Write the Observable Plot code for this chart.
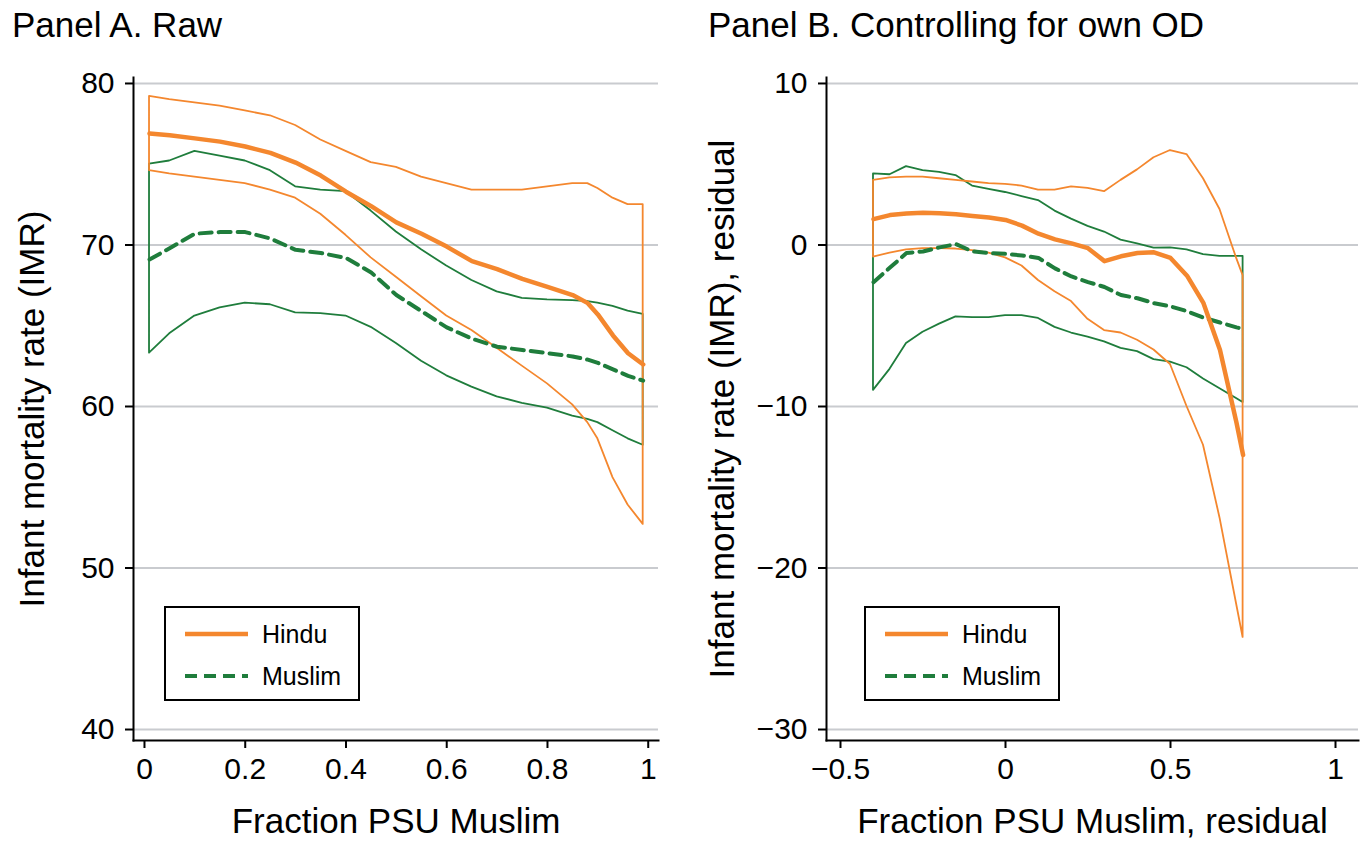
<!DOCTYPE html>
<html>
<head>
<meta charset="utf-8">
<script src="https://cdn.jsdelivr.net/npm/d3@7"></script>
<script src="https://cdn.jsdelivr.net/npm/@observablehq/plot@0.6"></script>
<style>
  body { margin: 0; background: #fff; }
  #wrap { position: relative; width: 1360px; height: 846px; overflow: hidden; background: #fff;
          font-family: "Liberation Sans", Arial, Helvetica, sans-serif; color: #000; }
  .panel { position: absolute; top: 0; }
  .ptitle { position: absolute; font-size: 35px; line-height: 1; white-space: nowrap; }
  .legend { position: absolute; box-sizing: border-box; border: 2px solid #000; background: #fff; }
  .legend svg { position: absolute; left: 0; top: 0; }
</style>
</head>
<body>
<div id="wrap"></div>
<script>
// ---------------- DATA ----------------
const ORANGE = "#f4872e";
const GREEN = "#1f7d3c";

const seriesNames = ["Hindu", "Muslim"];

// Panel A. Raw
const titleA = "Panel A. Raw";
const xLabelA = "Fraction PSU Muslim";
const yLabelA = "Infant mortality rate (IMR)";
const xTicksA = [0, 0.2, 0.4, 0.6, 0.8, 1];
const yTicksA = [40, 50, 60, 70, 80];
const xA = [0.01, 0.05, 0.10, 0.15, 0.20, 0.25, 0.30, 0.35, 0.40, 0.45, 0.50, 0.55, 0.60, 0.65, 0.70, 0.75, 0.80, 0.85, 0.88, 0.90, 0.93, 0.96, 0.99];
const hinduA    = [76.9, 76.8, 76.6, 76.4, 76.1, 75.7, 75.1, 74.3, 73.3, 72.4, 71.4, 70.7, 69.9, 69.0, 68.5, 67.9, 67.4, 66.9, 66.4, 65.7, 64.4, 63.3, 62.6];
const hinduA_hi = [79.2, 79.0, 78.8, 78.6, 78.3, 78.0, 77.4, 76.5, 75.8, 75.1, 74.8, 74.2, 73.8, 73.4, 73.4, 73.4, 73.6, 73.8, 73.8, 73.5, 72.9, 72.5, 72.5];
const hinduA_lo = [74.6, 74.4, 74.2, 74.0, 73.8, 73.4, 72.9, 71.9, 70.6, 69.2, 68.0, 66.8, 65.6, 64.7, 63.6, 62.5, 61.4, 60.1, 59.0, 58.0, 55.6, 53.9, 52.7];
const muslimA    = [69.1, 69.8, 70.7, 70.8, 70.8, 70.4, 69.7, 69.5, 69.2, 68.3, 66.9, 65.9, 64.9, 64.2, 63.7, 63.5, 63.3, 63.1, 62.9, 62.7, 62.3, 61.9, 61.6];
const muslimA_hi = [75.0, 75.2, 75.8, 75.5, 75.2, 74.6, 73.6, 73.4, 73.3, 72.1, 70.8, 69.7, 68.7, 67.8, 67.1, 66.7, 66.6, 66.55, 66.5, 66.4, 66.2, 65.9, 65.7];
const muslimA_lo = [63.3, 64.5, 65.6, 66.1, 66.4, 66.3, 65.8, 65.75, 65.6, 64.9, 63.9, 62.8, 61.9, 61.2, 60.6, 60.2, 59.9, 59.4, 59.2, 59.0, 58.5, 58.0, 57.6];

// Panel B. Controlling for own OD
const titleB = "Panel B. Controlling for own OD";
const xLabelB = "Fraction PSU Muslim, residual";
const yLabelB = "Infant mortality rate (IMR), residual";
const xTicksB = [-0.5, 0, 0.5, 1];
const yTicksB = [-30, -20, -10, 0, 10];
const xB = [-0.40, -0.35, -0.30, -0.25, -0.20, -0.15, -0.10, -0.05, 0, 0.05, 0.10, 0.15, 0.20, 0.25, 0.30, 0.35, 0.40, 0.45, 0.50, 0.55, 0.60, 0.65, 0.70, 0.72];
const hinduB    = [1.6, 1.85, 1.95, 2.0, 1.97, 1.9, 1.8, 1.7, 1.55, 1.2, 0.7, 0.35, 0.1, -0.2, -1.0, -0.7, -0.5, -0.45, -0.8, -1.9, -3.6, -6.5, -11.0, -13.0];
const hinduB_hi = [4.0, 4.15, 4.2, 4.2, 4.1, 4.0, 3.9, 3.8, 3.75, 3.65, 3.4, 3.4, 3.6, 3.5, 3.3, 4.0, 4.65, 5.4, 5.85, 5.6, 4.1, 2.2, -0.8, -1.9];
const hinduB_lo = [-0.75, -0.5, -0.3, -0.22, -0.22, -0.25, -0.35, -0.5, -0.8, -1.3, -2.2, -2.9, -3.5, -4.6, -5.3, -5.45, -5.9, -6.5, -7.4, -10.0, -12.4, -16.9, -22.2, -24.3];
const muslimB    = [-2.3, -1.4, -0.5, -0.4, -0.15, 0.05, -0.4, -0.5, -0.55, -0.65, -0.8, -1.45, -1.95, -2.3, -2.6, -3.1, -3.3, -3.6, -3.8, -4.1, -4.5, -4.8, -5.1, -5.2];
const muslimB_hi = [4.4, 4.35, 4.85, 4.6, 4.5, 4.3, 3.65, 3.45, 3.25, 3.0, 2.75, 2.1, 1.6, 1.15, 0.8, 0.3, 0.07, -0.2, -0.18, -0.3, -0.6, -0.7, -0.7, -0.7];
const muslimB_lo = [-9.0, -7.7, -6.1, -5.4, -4.9, -4.45, -4.5, -4.5, -4.37, -4.37, -4.55, -5.1, -5.45, -5.7, -6.0, -6.4, -6.6, -7.1, -7.25, -7.6, -8.3, -8.9, -9.5, -9.75];

// ---------------- BUILD ----------------
const FONT = '"Liberation Sans", Arial, Helvetica, sans-serif';
const fmt = d3.format("~g");
const rows = (xs, m, lo, hi) => xs.map((x, i) => ({x, y: m[i], lo: lo[i], hi: hi[i]}));

function panel(cfg) {
  const H = rows(cfg.x, cfg.hindu, cfg.hlo, cfg.hhi);
  const M = rows(cfg.x, cfg.muslim, cfg.mlo, cfg.mhi);
  return Plot.plot({
    width: 680, height: 846,
    marginLeft: cfg.marginLeft, marginRight: cfg.marginRight, marginTop: 77, marginBottom: 106,
    style: {fontFamily: FONT, color: "#000", background: "transparent", overflow: "visible"},
    x: {domain: cfg.xDomain},
    y: {domain: cfg.yDomain},
    marks: [
      Plot.gridY(cfg.yTicks, {stroke: "#c9cbcf", strokeOpacity: 1, strokeWidth: 2}),
      Plot.areaY(M, {x: "x", y1: "lo", y2: "hi", fill: "none", stroke: GREEN, strokeWidth: 1.8, strokeLinejoin: "round"}),
      Plot.areaY(H, {x: "x", y1: "lo", y2: "hi", fill: "none", stroke: ORANGE, strokeWidth: 1.8, strokeLinejoin: "round"}),
      Plot.lineY(M, {x: "x", y: "y", stroke: GREEN, strokeWidth: 4, strokeDasharray: "12,7"}),
      Plot.lineY(H, {x: "x", y: "y", stroke: ORANGE, strokeWidth: 4.5, strokeLinejoin: "round", strokeLinecap: "round"}),
      Plot.frame({anchor: "left", stroke: "#000", strokeWidth: 2}),
      Plot.frame({anchor: "bottom", stroke: "#000", strokeWidth: 2}),
      Plot.axisY({ticks: cfg.yTicks, tickFormat: fmt, tickSize: 8, tickPadding: 11, strokeWidth: 2, label: null, fontSize: 30}),
      Plot.axisX({ticks: cfg.xTicks, tickFormat: fmt, tickSize: 8, tickPadding: 9, strokeWidth: 2, label: null, fontSize: 30}),
      Plot.text([cfg.yLabel], {text: d => d, frameAnchor: "left", textAnchor: "middle", rotate: -90, dx: cfg.yLabelDx, fontSize: 35}),
      Plot.text([cfg.xLabel], {text: d => d, frameAnchor: "bottom", textAnchor: "middle", dy: 92, fontSize: 35})
    ]
  });
}

const wrap = document.getElementById("wrap");

function place(el, left) {
  el.classList.add("panel");
  el.style.left = left + "px";
  wrap.appendChild(el);
}

place(panel({
  x: xA, hindu: hinduA, hlo: hinduA_lo, hhi: hinduA_hi, muslim: muslimA, mlo: muslimA_lo, mhi: muslimA_hi,
  marginLeft: 133, marginRight: 22, xDomain: [-0.0218, 1.0204], yDomain: [39.32, 80.37],
  xTicks: xTicksA, yTicks: yTicksA, xLabel: xLabelA, yLabel: yLabelA, yLabelDx: -101
}), 0);

place(panel({
  x: xB, hindu: hinduB, hlo: hinduB_lo, hhi: hinduB_hi, muslim: muslimB, mlo: muslimB_lo, mhi: muslimB_hi,
  marginLeft: 146, marginRight: 2, xDomain: [-0.5424, 1.0697], yDomain: [-30.68, 10.37],
  xTicks: xTicksB, yTicks: yTicksB, xLabel: xLabelB, yLabel: yLabelB, yLabelDx: -104
}), 680);

function title(text, left) {
  const d = document.createElement("div");
  d.className = "ptitle";
  d.style.left = left + "px";
  d.style.top = "7px";
  d.textContent = text;
  wrap.appendChild(d);
}
title(titleA, 12);
title(titleB, 708);

function legend(left, top) {
  const w = 196, h = 95;
  const d = document.createElement("div");
  d.className = "legend";
  d.style.left = left + "px";
  d.style.top = top + "px";
  d.style.width = w + "px";
  d.style.height = h + "px";
  const svg = d3.create("svg").attr("width", w).attr("height", h);
  const items = [
    {name: seriesNames[0], color: ORANGE, dash: null, width: 4.5},
    {name: seriesNames[1], color: GREEN, dash: "12,7", width: 4}
  ];
  items.forEach((it, i) => {
    const cy = 26 + i * 42;
    svg.append("line").attr("x1", 19).attr("x2", 82).attr("y1", cy).attr("y2", cy)
      .attr("stroke", it.color).attr("stroke-width", it.width)
      .attr("stroke-dasharray", it.dash);
    svg.append("text").attr("x", 96).attr("y", cy).attr("dy", "0.35em")
      .attr("font-family", FONT).attr("font-size", 25).attr("fill", "#000").text(it.name);
  });
  d.appendChild(svg.node());
  wrap.appendChild(d);
}
legend(164, 606);
legend(864, 606);
</script>
</body>
</html>
